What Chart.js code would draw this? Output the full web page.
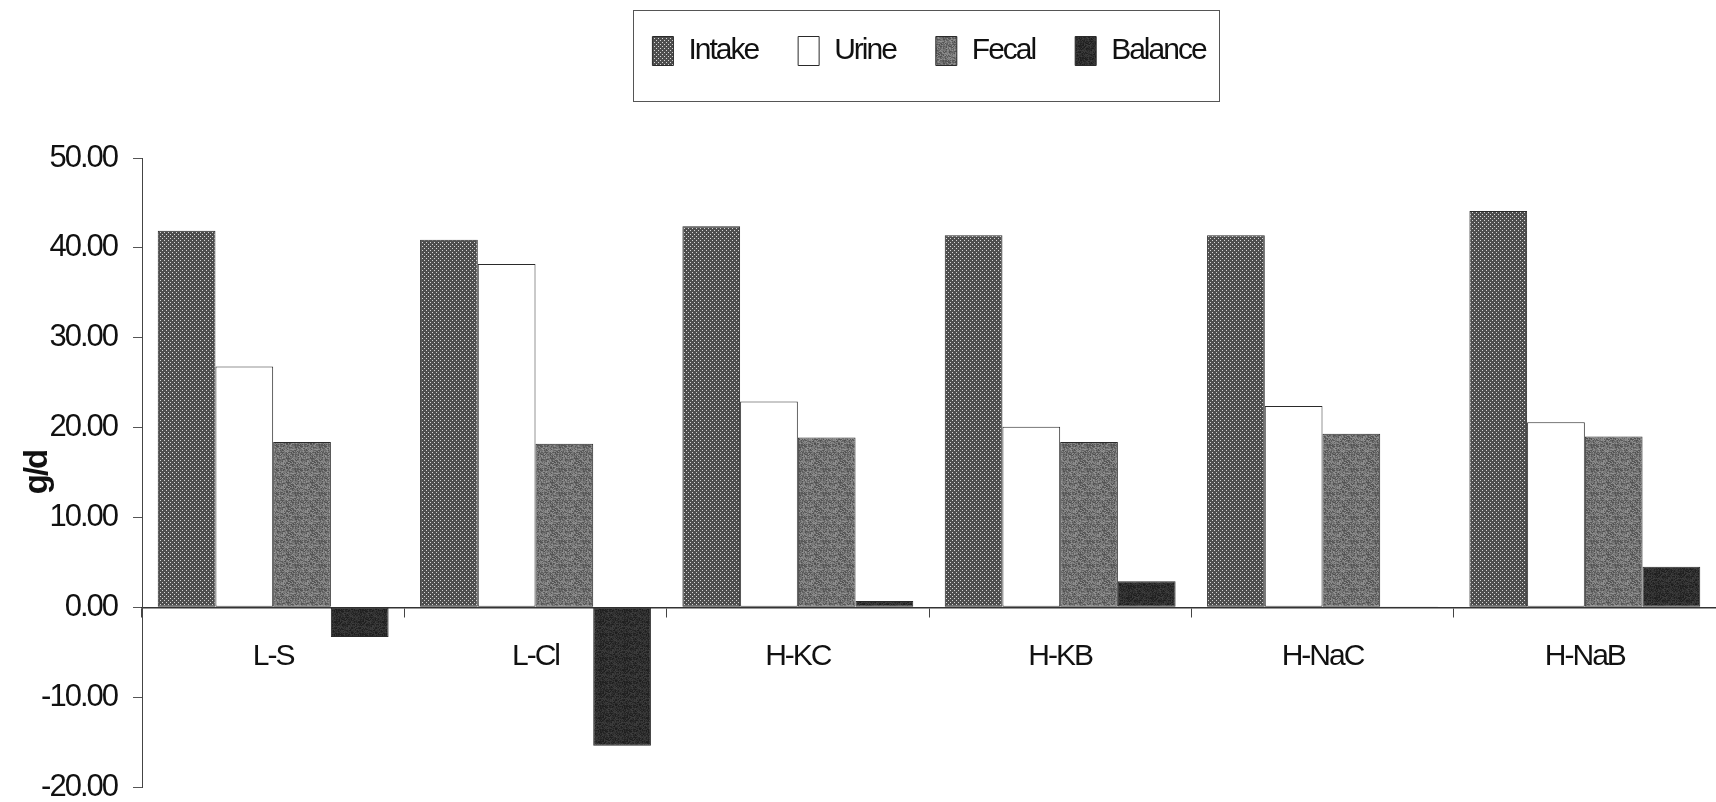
<!DOCTYPE html>
<html>
<head>
<meta charset="utf-8">
<script src="https://cdn.jsdelivr.net/npm/chart.js@4/dist/chart.umd.min.js"></script>
<style>
  html, body { margin: 0; padding: 0; background: #fff; }
  #wrap { width: 1716px; height: 802px; }
</style>
</head>
<body>
<div id="wrap"><canvas id="balanceChart"></canvas></div>
<script>
// values (g/d)
const categories = ['L-S', 'L-Cl', 'H-KC', 'H-KB', 'H-NaC', 'H-NaB'];
const intake  = [41.9, 40.9, 42.4, 41.4, 41.4, 44.1];
const urine   = [26.8, 38.2, 22.9, 20.1, 22.4, 20.6];
const fecal   = [18.4, 18.2, 18.9, 18.4, 19.3, 19.0];
const balance = [-3.3, -15.4, 0.7, 2.9, 0.1, 4.5];
const yTicks  = [-20, -10, 0, 10, 20, 30, 40, 50];

const FONT = "'Liberation Sans', Arial, sans-serif";

/* -----------------------------
    fill textures (scan look)
------------------------------ */
function makeTile(size, fn) {
    const c = document.createElement('canvas');
    c.width = size; c.height = size;
    const g = c.getContext('2d');
    const img = g.createImageData(size, size);
    for (let y = 0; y < size; y++) {
        for (let x = 0; x < size; x++) {
            const v = fn(x, y);
            const k = (y * size + x) * 4;
            img.data[k] = img.data[k + 1] = img.data[k + 2] = v;
            img.data[k + 3] = 255;
        }
    }
    g.putImageData(img, 0, 0);
    return g.createPattern(c, 'repeat');
}
// fixed hash for the mottled look
function hash(x, y) {
    const h = Math.sin(x * 12.9898 + y * 78.233) * 43758.5453;
    return h - Math.floor(h);
}
const intakeFill = makeTile(4, (x, y) => ((x === 0 && y === 0) || (x === 2 && y === 2)) ? 215 : 78);
const fecalFill = makeTile(24, (x, y) => Math.round(78 + hash(x, y) * 70));
const balanceFill = makeTile(24, (x, y) => Math.round(28 + hash(x + 7, y + 3) * 35));

/* -----------------------------
    condensed-looking text
------------------------------ */
const tightText = {
    id: 'tightText',
    beforeUpdate(chart) { chart.ctx.letterSpacing = '-2px'; },
    beforeLayout(chart) { chart.ctx.letterSpacing = '-2px'; },
    beforeDraw(chart) { chart.ctx.letterSpacing = '-2px'; }
};

/* -----------------------------
    legend frame + spacing
------------------------------ */
const legendFrame = {
    id: 'legendFrame',
    beforeInit(chart) {
        const legend = chart.legend;
        if (!legend) return;
        const fit = legend.fit;
        legend.fit = function () {
            fit.call(this);
            this.height += 78;
        };
    },
    afterLayout(chart) {
        // lift the legend row a little inside its box
        if (!chart.legend) return;
        chart.legend.top -= 4;
        chart.legend.bottom -= 4;
    },
    afterDraw(chart) {
        const legend = chart.legend;
        if (!legend || !legend.legendHitBoxes.length) return;
        const hb = legend.legendHitBoxes;
        const first = hb[0], last = hb[hb.length - 1];
        const cy = first.top + first.height / 2;
        const ctx = chart.ctx;
        ctx.save();
        ctx.strokeStyle = '#555';
        ctx.lineWidth = 1;
        ctx.strokeRect(Math.round(first.left - 19) + 0.5, Math.round(cy - 41) + 0.5,
            Math.round(last.left + last.width + 14 - (first.left - 19)), 91);
        ctx.restore();
    }
};

const ctx = document.getElementById('balanceChart');

new Chart(ctx, {
    type: 'bar',
    data: {
        labels: categories,
        datasets: [
            { label: 'Intake', data: intake, backgroundColor: intakeFill },
            { label: 'Urine', data: urine, backgroundColor: '#ffffff' },
            { label: 'Fecal', data: fecal, backgroundColor: fecalFill },
            { label: 'Balance', data: balance, backgroundColor: balanceFill }
        ]
    },
    options: {
        responsive: true,
        maintainAspectRatio: false,
        animation: false,
        devicePixelRatio: 1,
        datasets: {
            bar: {
                borderColor: '#2a2a2a',
                borderWidth: 1,
                borderSkipped: false,
                categoryPercentage: 0.88,
                barPercentage: 1.0
            }
        },
        layout: { padding: { top: 0, right: 0, bottom: 0, left: 0 } },
        plugins: {
            tooltip: { enabled: false },
            legend: {
                position: 'top',
                fullSize: false,
                labels: {
                    color: '#111',
                    boxWidth: 21,
                    boxHeight: 29,
                    padding: 40,
                    font: { family: FONT, size: 30 }
                }
            }
        },
        scales: {
            x: {
                type: 'category',
                position: { y: 0 },
                grid: {
                    offset: true,
                    drawOnChartArea: false,
                    drawTicks: true,
                    tickLength: 9,
                    color: '#444'
                },
                border: { display: true, color: '#333', width: 1.5 },
                ticks: {
                    color: '#111',
                    padding: 22,
                    maxRotation: 0,
                    font: { family: FONT, size: 30 }
                }
            },
            y: {
                min: -20,
                max: 50,
                afterBuildTicks(scale) {
                    scale.ticks = yTicks.map(v => ({ value: v }));
                },
                afterFit(scale) {
                    scale.width = 142;
                    scale.paddingBottom = 15;
                },
                grid: {
                    drawOnChartArea: false,
                    tickLength: 9,
                    color: '#555'
                },
                border: { display: true, color: '#444', width: 1 },
                ticks: {
                    color: '#111',
                    padding: 16,
                    font: { family: FONT, size: 31 },
                    callback: v => Number(v).toFixed(2)
                },
                title: {
                    display: true,
                    text: 'g/d',
                    color: '#111',
                    padding: { top: 18, bottom: 0 },
                    font: { family: FONT, size: 33, weight: 'bold' }
                }
            }
        }
    },
    plugins: [tightText, legendFrame]
});
</script>
</body>
</html>
